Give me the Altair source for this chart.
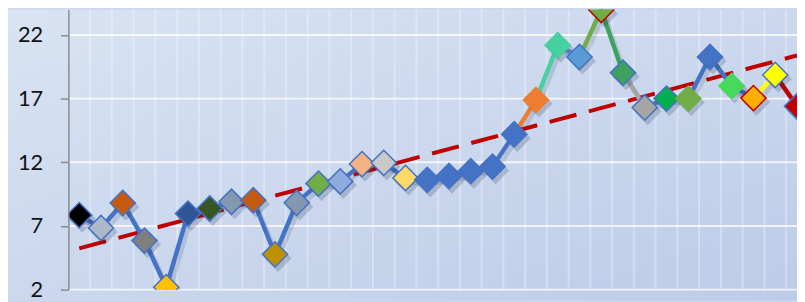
import altair as alt
import pandas as pd

# ---- data ----
values = [7.85, 6.84, 8.8, 5.85, 2.19, 7.97, 8.37, 8.9, 9.02, 4.77,
          8.82, 10.33, 10.5, 11.86, 11.96, 10.77, 10.62, 10.92, 11.3, 11.66,
          14.2, 16.9, 21.2, 20.27, 23.97, 19.03, 16.3, 17.0, 17.0, 20.27,
          18.0, 17.04, 18.86, 16.4]

fill_colors = ["#000000", "#ADB9CA", "#C55A11", "#7F7F7F", "#FFC000",
               "#2F5597", "#375623", "#8497B0", "#C55A11", "#BF9000",
               "#8497B0", "#70AD47", "#8FAADC", "#F4B183", "#C9C9C9",
               "#FFD966", "#4472C4", "#4472C4", "#4472C4", "#4472C4",
               "#4472C4", "#ED7D31", "#48D1A0", "#5B9BD5", "#70AD47",
               "#3FA15E", "#A5A5A5", "#00B050", "#70AD47", "#4472C4",
               "#46D95C", "#FFB000", "#FFFF00", "#C00000"]

edge_colors = ["#4472C4"] * 21 + ["#ED7D31", "#48D1A0", "#4472C4", "#C00000",
               "#4472C4", "#4472C4", "#4472C4", "#70AD47", "#4472C4",
               "#46D95C", "#C00000", "#4472C4", "#4472C4"]

# colour of the line segment that leads into each point (points 2..34)
segment_colors = ["#4472C4"] * 20 + ["#ED7D31", "#48D1A0", "#5B9BD5", "#70AD47",
                  "#3FA15E", "#A5A5A5", "#4472C4", "#4472C4", "#4472C4",
                  "#4472C4", "#4472C4", "#FFFF00", "#C00000"]

y_ticks = [2, 7, 12, 17, 22]

n = len(values)
idx = list(range(1, n + 1))
df = pd.DataFrame({"idx": idx, "value": values, "fill": fill_colors, "edge": edge_colors})
seg = pd.DataFrame({
    "xa": idx[:-1], "xb": idx[1:],
    "ya": values[:-1], "yb": values[1:],
    "c": segment_colors,
})
hgrid = pd.DataFrame({"g": y_ticks})
vgrid = pd.DataFrame({"b": [i + 0.5 for i in idx[:-1]]})

W, H = 736, 283
xs = alt.Scale(domain=[0.5, 34], nice=False, zero=False)
ys = alt.Scale(domain=[2, 24], nice=False, zero=False)

yaxis = alt.Axis(values=y_ticks, grid=False, domainColor="#8C8C8C", domainWidth=1.5,
                 tickColor="#8C8C8C", tickSize=8, tickWidth=1.5,
                 labelFont="Lato", labelFontSize=22, labelColor="#111111",
                 labelPadding=18, title=None, zindex=1)

bg = alt.Chart(pd.DataFrame({"a": [0]})).mark_rect(
    color=alt.LinearGradient(
        gradient="linear",
        stops=[alt.GradientStop(color="#D9E3F3", offset=0),
               alt.GradientStop(color="#BCCCE8", offset=1)],
        x1=0, y1=0, x2=1, y2=1),
).encode(x=alt.value(-61), x2=alt.value(W), y=alt.value(0), y2=alt.value(H + 11))

vg = alt.Chart(vgrid).mark_rule(color="#FFFFFF", opacity=0.3, strokeWidth=2).encode(
    x=alt.X("b:Q", scale=xs, axis=None))

hg = alt.Chart(hgrid).mark_rule(color="#FFFFFF", opacity=0.75, strokeWidth=2).encode(
    y=alt.Y("g:Q", scale=ys, axis=yaxis))

trend = alt.Chart(df).transform_regression("idx", "value").mark_line(
    color="#C00000", strokeWidth=4, strokeDash=[28, 13], clip=True
).encode(x=alt.X("idx:Q", scale=xs, axis=None), y=alt.Y("value:Q", scale=ys, title=None))

line_shadow = alt.Chart(df).mark_line(
    color="#1B2A47", opacity=0.14, strokeWidth=5, xOffset=3, yOffset=4, clip=True,
    strokeJoin="round"
).encode(x=alt.X("idx:Q", scale=xs, axis=None), y=alt.Y("value:Q", scale=ys, title=None))

segs = alt.Chart(seg).mark_rule(strokeWidth=4.5, strokeCap="round", clip=True).encode(
    x=alt.X("xa:Q", scale=xs, axis=None), x2="xb:Q",
    y=alt.Y("ya:Q", scale=ys, title=None), y2="yb:Q",
    color=alt.Color("c:N", scale=None))

pt_shadow = alt.Chart(df).mark_point(
    shape="diamond", filled=True, size=760, color="#1B2A47", opacity=0.2,
    xOffset=3, yOffset=4, clip=True
).encode(x=alt.X("idx:Q", scale=xs, axis=None), y=alt.Y("value:Q", scale=ys, title=None))

pts = alt.Chart(df).mark_point(
    shape="diamond", filled=True, size=650, strokeWidth=1.5, opacity=1, clip=True
).encode(
    x=alt.X("idx:Q", scale=xs, axis=None),
    y=alt.Y("value:Q", scale=ys, title=None),
    fill=alt.Fill("fill:N", scale=None),
    stroke=alt.Stroke("edge:N", scale=None))

chart = alt.layer(bg, vg, hg, line_shadow, trend, segs, pt_shadow, pts).properties(
    width=W, height=H,
    padding={"left": 61, "top": 0, "right": 0, "bottom": 11},
    autosize=alt.AutoSizeParams(type="none"),
    background="#CAD7EE",
).configure_view(stroke=None)

chart.save("out.html", embed_options={"renderer": "svg", "actions": False})
